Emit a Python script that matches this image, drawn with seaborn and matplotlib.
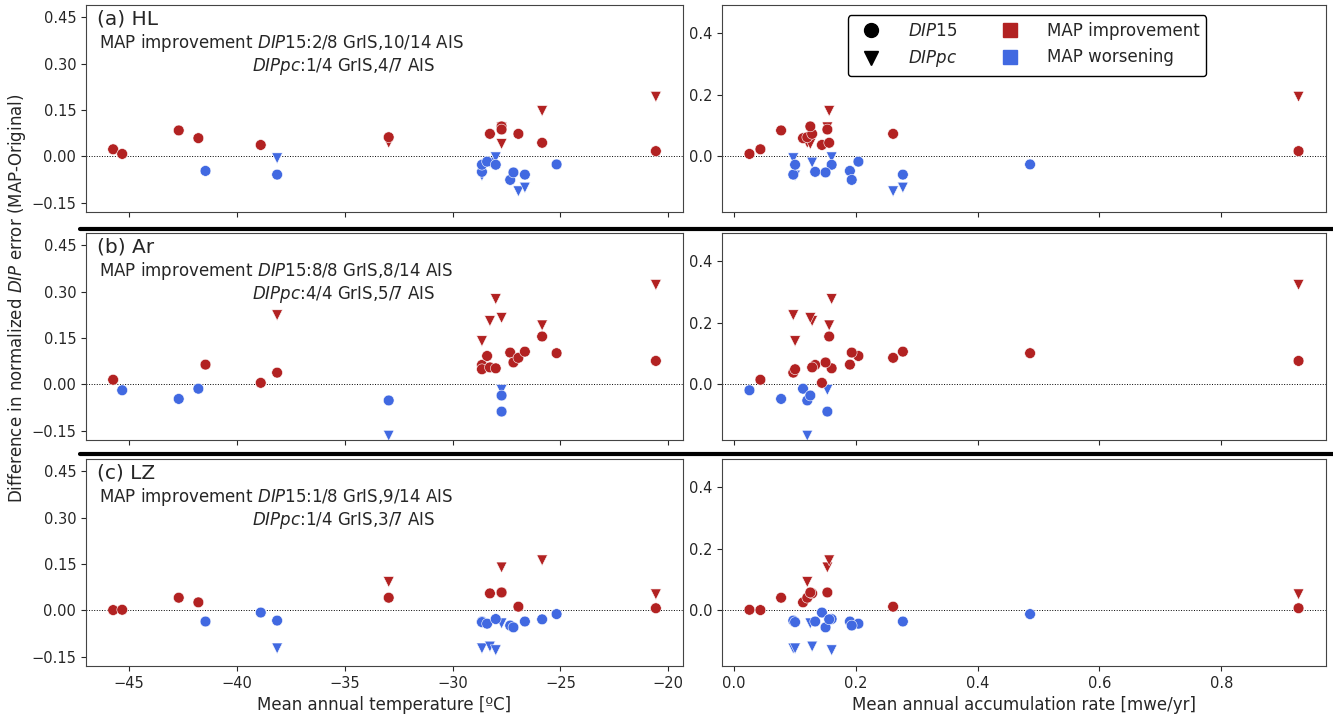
import numpy as np
import pandas as pd
import seaborn as sns
import matplotlib.pyplot as plt
from matplotlib.lines import Line2D

sns.set_style("ticks")

# site climate (22 cores)
temp = [-45.73, -45.31, -42.69, -41.78, -41.45, -38.89, -38.13, -32.96, -28.64, -28.64, -28.40,
        -28.27, -28.00, -27.73, -27.73, -27.33, -27.18, -26.95, -26.65, -25.85, -25.18, -20.58]
accum = [0.043, 0.025, 0.077, 0.113, 0.190, 0.144, 0.097, 0.120, 0.133, 0.100, 0.204,
         0.128, 0.160, 0.125, 0.153, 0.193, 0.150, 0.261, 0.277, 0.156, 0.486, 0.927]

# DIP15 difference (MAP - original), one value per site
hl_dip15 = [0.023, 0.008, 0.084, 0.059, -0.047, 0.037, -0.059, 0.062, -0.050, -0.027, -0.017,
            0.073, -0.027, 0.097, 0.087, -0.076, -0.052, 0.073, -0.059, 0.044, -0.026, 0.017]
ar_dip15 = [0.015, -0.019, -0.047, -0.014, 0.064, 0.005, 0.038, -0.052, 0.063, 0.049, 0.092,
            0.055, 0.052, -0.036, -0.088, 0.103, 0.071, 0.086, 0.106, 0.155, 0.101, 0.076]
lz_dip15 = [0.001, 0.002, 0.041, 0.026, -0.036, -0.007, -0.033, 0.041, -0.036, -0.038, -0.043,
            0.055, -0.028, 0.058, 0.058, -0.049, -0.055, 0.012, -0.036, -0.029, -0.012, 0.007]

# DIPpc only at 11 of the sites (index into the site lists)
pc_idx = [6, 7, 9, 11, 12, 13, 14, 17, 18, 19, 21]
hl_dippc = [-0.006, 0.044, -0.062, -0.020, -0.003, 0.040, 0.094, -0.113, -0.101, 0.147, 0.193]
# nan = off the plotted range
ar_dippc = [0.224, -0.166, 0.140, 0.205, 0.276, 0.215, -0.018, np.nan, np.nan, 0.191, 0.322]
lz_dippc = [-0.123, 0.092, -0.123, -0.117, -0.129, -0.042, 0.139, np.nan, np.nan, 0.162, 0.052]

methods = ["HL", "Ar", "LZ"]
tags = ["(a)", "(b)", "(c)"]
count15 = ["2/8 GrIS,10/14 AIS", "8/8 GrIS,8/14 AIS", "1/8 GrIS,9/14 AIS"]
countpc = ["1/4 GrIS,4/7 AIS", "4/4 GrIS,5/7 AIS", "1/4 GrIS,3/7 AIS"]

rows = []
for m, v15, vpc in zip(methods, [hl_dip15, ar_dip15, lz_dip15], [hl_dippc, ar_dippc, lz_dippc]):
    for i, v in enumerate(v15):
        rows.append(dict(method=m, dip="DIP15", temp=temp[i], accum=accum[i], diff=v))
    for i, v in zip(pc_idx, vpc):
        rows.append(dict(method=m, dip="DIPpc", temp=temp[i], accum=accum[i], diff=v))
df = pd.DataFrame(rows).dropna()
df["status"] = np.where(df["diff"] > 0, "MAP improvement", "MAP worsening")

pal = {"MAP improvement": "firebrick", "MAP worsening": "royalblue"}

fig = plt.figure(figsize=(13.33, 7.17), dpi=100)
W, H = 1333, 717
row_top = [5, 233, 459]
ah = 207
axL0 = axR0 = None
for r, m in enumerate(methods):
    y0 = 1 - (row_top[r] + ah) / H
    axL = fig.add_axes([86 / W, y0, 597 / W, ah / H], sharex=axL0)
    axR = fig.add_axes([722 / W, y0, 604 / W, ah / H], sharex=axR0)
    axL0 = axL0 or axL
    axR0 = axR0 or axR
    sub = df[df["method"] == m]
    for ax, xvar in [(axL, "temp"), (axR, "accum")]:
        ax.axhline(0, color="k", ls=":", lw=0.7, zorder=1)
        for dip, mk in [("DIPpc", "v"), ("DIP15", "o")]:
            sns.scatterplot(data=sub[sub["dip"] == dip], x=xvar, y="diff", hue="status",
                            palette=pal, marker=mk, s=60, edgecolor="w", linewidth=0.4,
                            legend=False, ax=ax, zorder=3)
        ax.set_ylim(-0.18, 0.49)
        ax.set_ylabel("")
        ax.set_xlabel("")
        ax.tick_params(labelsize=10.5)
        for sp in ax.spines.values():
            sp.set_color("#444444")
        if r < 2:
            ax.tick_params(labelbottom=False)
    axL.set_yticks([-0.15, 0.0, 0.15, 0.30, 0.45])
    axR.set_yticks([0.0, 0.2, 0.4])
    axL.text(0.018, 0.93, f"{tags[r]} {m}", transform=axL.transAxes, fontsize=14.5, va="center")
    axL.text(0.022, 0.815, f"MAP improvement $DIP$15:{count15[r]}", transform=axL.transAxes,
             fontsize=12, va="center")
    axL.text(0.278, 0.705, f"$DIPpc$:{countpc[r]}", transform=axL.transAxes,
             fontsize=12, va="center")
    if r == 0:
        handles = [
            Line2D([], [], marker="o", ls="", color="k", markersize=10),
            Line2D([], [], marker="v", ls="", color="k", markersize=10),
            Line2D([], [], marker="s", ls="", color="firebrick", markersize=10),
            Line2D([], [], marker="s", ls="", color="royalblue", markersize=10),
        ]
        labels = ["$DIP$15", "$DIPpc$", "MAP improvement", "MAP worsening"]
        leg = axR.legend(handles, labels, ncol=2, loc="upper center", bbox_to_anchor=(0.505, 0.95),
                         borderaxespad=0, fontsize=12, frameon=True, framealpha=1,
                         edgecolor="k", columnspacing=2.2, handletextpad=1.2)
    if r == 2:
        axL.set_xlabel("Mean annual temperature [\u00baC]", fontsize=12)
        axR.set_xlabel("Mean annual accumulation rate [mwe/yr]", fontsize=12)

# separators between rows
for ypx in [229, 454]:
    fig.add_artist(Line2D([80 / W, 1.0], [1 - ypx / H, 1 - ypx / H], transform=fig.transFigure,
                          color="k", lw=3))

fig.text(17 / W, 1 - 298 / H, "Difference in normalized $DIP$ error (MAP-Original)",
         rotation=90, ha="center", va="center", fontsize=12)

fig.savefig("out.png", dpi=100)
